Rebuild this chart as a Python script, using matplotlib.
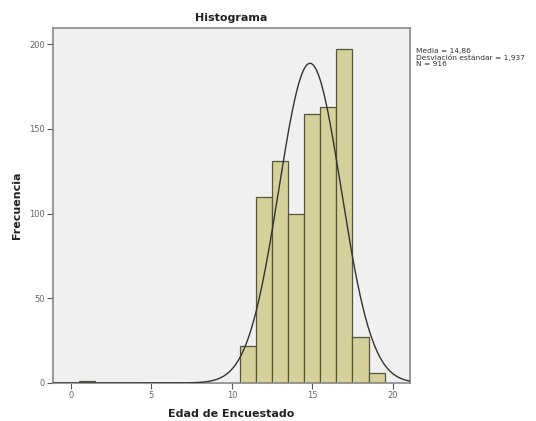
import numpy as np
import matplotlib
matplotlib.use("Agg")
import matplotlib.pyplot as plt

# Age histogram (bin centres and counts)
ages = [1, 11, 12, 13, 14, 15, 16, 17, 18, 19]
counts = [1, 22, 110, 131, 100, 159, 163, 197, 27, 6]
media = 14.86
desv = 1.937
n_total = 916

fig = plt.figure(figsize=(5.36, 4.21), dpi=100)
ax = fig.add_axes([0.0989, 0.0903, 0.6661, 0.8432])
ax.set_facecolor("#F0F0F0")

ax.bar(ages, counts, width=1.0, color="#D6D19A", edgecolor="#55553F",
       linewidth=0.9, zorder=2)

# Fitted normal curve scaled to counts (bin width 1)
xs = np.linspace(-1.12, 21.08, 600)
ys = n_total * 1.0 / (desv * np.sqrt(2 * np.pi)) * np.exp(-0.5 * ((xs - media) / desv) ** 2)
ax.plot(xs, ys, color="#333333", linewidth=1.0, zorder=3)

ax.set_xlim(-1.12, 21.08)
ax.set_ylim(0, 209.5)
ax.set_xticks([0, 5, 10, 15, 20])
ax.set_yticks([0, 50, 100, 150, 200])
ax.tick_params(axis="both", labelsize=6, colors="#555555", length=4,
               width=0.8, direction="out", pad=2)
ax.tick_params(axis="both", labelcolor="#666666")
for sp in ax.spines.values():
    sp.set_color("#888888")
    sp.set_linewidth(1.2)

ax.set_title("Histograma", fontsize=8, fontweight="bold", color="#222222", pad=5)
ax.set_xlabel("Edad de Encuestado", fontsize=8, fontweight="bold", color="#222222", labelpad=6)
ax.set_ylabel("Frecuencia", fontsize=8, fontweight="bold", color="#222222", labelpad=5)

fig.text(0.776, 0.886,
         "Media = 14,86\nDesviación estándar = 1,937\nN = 916",
         fontsize=5.4, color="#333333", va="top", ha="left", linespacing=1.0)

fig.savefig("out.png", dpi=100)
